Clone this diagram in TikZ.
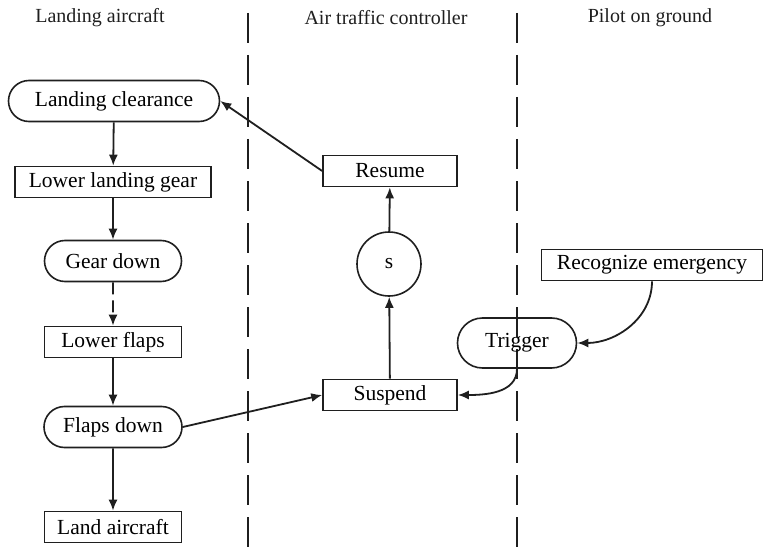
\documentclass[tikz,border=0pt]{standalone}
\usepackage{fontspec}
\setmainfont{Liberation Serif}
\usetikzlibrary{arrows.meta,positioning,shapes.misc}
\colorlet{ink}{black!88}
\tikzset{
  >={Latex[length=11pt,width=9pt]},
  arrow/.style={->, draw=ink, line width=1.8pt},
  lane/.style={draw=ink, line width=1.5pt, dash pattern=on 30pt off 12pt},
  action/.style={
    draw=ink,
    rectangle,
    line width=1.6pt,
    minimum height=31pt,
    inner sep=2pt,
    font=\fontsize{21.5}{24}\selectfont
  },
  state/.style={
    draw=ink,
    rounded rectangle,
    line width=1.6pt,
    minimum height=41pt,
    inner sep=2pt,
    font=\fontsize{21.5}{24}\selectfont
  },
  holdcircle/.style={
    draw=ink,
    circle,
    line width=1.6pt,
    minimum size=64pt,
    inner sep=0pt,
    font=\fontsize{21.5}{24}\selectfont
  },
  lanetitle/.style={font=\fontsize{20}{23}\selectfont, text=ink}
}
\begin{document}
\begin{tikzpicture}[x=1pt,y=-1pt]
  \useasboundingbox (0,0) rectangle (764,551);

  % swim lanes
  \node[lanetitle] (titleA) at (100,18) {Landing aircraft};
  \node[lanetitle] (titleB) at (386,18) {Air traffic controller};
  \node[lanetitle] (titleC) at (650,18) {Pilot on ground};
  \draw[lane] (248,13) -- (248,551);
  \draw[lane] (517,13) -- (517,551);

  % landing aircraft
  \node[state, minimum width=215pt] (clear) at (114,101) {Landing clearance};
  \node[action, minimum width=196pt] (gear) at (113,182) {Lower landing gear};
  \node[state, minimum width=141pt] (geardown) at (113,261) {Gear down};
  \node[action, minimum width=137pt] (flaps) at (113,342) {Lower flaps};
  \node[state, minimum width=142pt] (flapsdown) at (113,427) {Flaps down};
  \node[action, minimum width=137pt] (land) at (113,527) {Land aircraft};

  % air traffic controller
  \node[action, minimum width=134pt] (resume) at (390,171) {Resume};
  \node[holdcircle] (hold) at (389,264) {s};
  \node[action, minimum width=134pt] (suspend) at (390,395) {Suspend};

  % pilot on ground
  \node[action, minimum width=221pt] (recog) at (652,265) {Recognize emergency};
  \node[state, minimum width=123pt, minimum height=50pt] (trigger) at (517,343) {Trigger};

  \draw[arrow] (clear) -- (gear);
  \draw[arrow] (gear) -- (geardown);
  \draw[arrow, dash pattern=on 12pt off 6pt] (geardown) -- (flaps);
  \draw[arrow] (flaps) -- (flapsdown);
  \draw[arrow] (flapsdown) -- (land);
  \draw[arrow] (flapsdown.east) -- (suspend.west);
  \draw[arrow] (suspend) -- (hold);
  \draw[arrow] (hold) -- (resume);
  \draw[arrow] (resume.west) -- (clear.east);
  \draw[arrow] (recog.south) to[out=-90,in=0] (trigger.east);
  \draw[arrow] (trigger.south) to[out=-90,in=0] (suspend.east);
\end{tikzpicture}
\end{document}
